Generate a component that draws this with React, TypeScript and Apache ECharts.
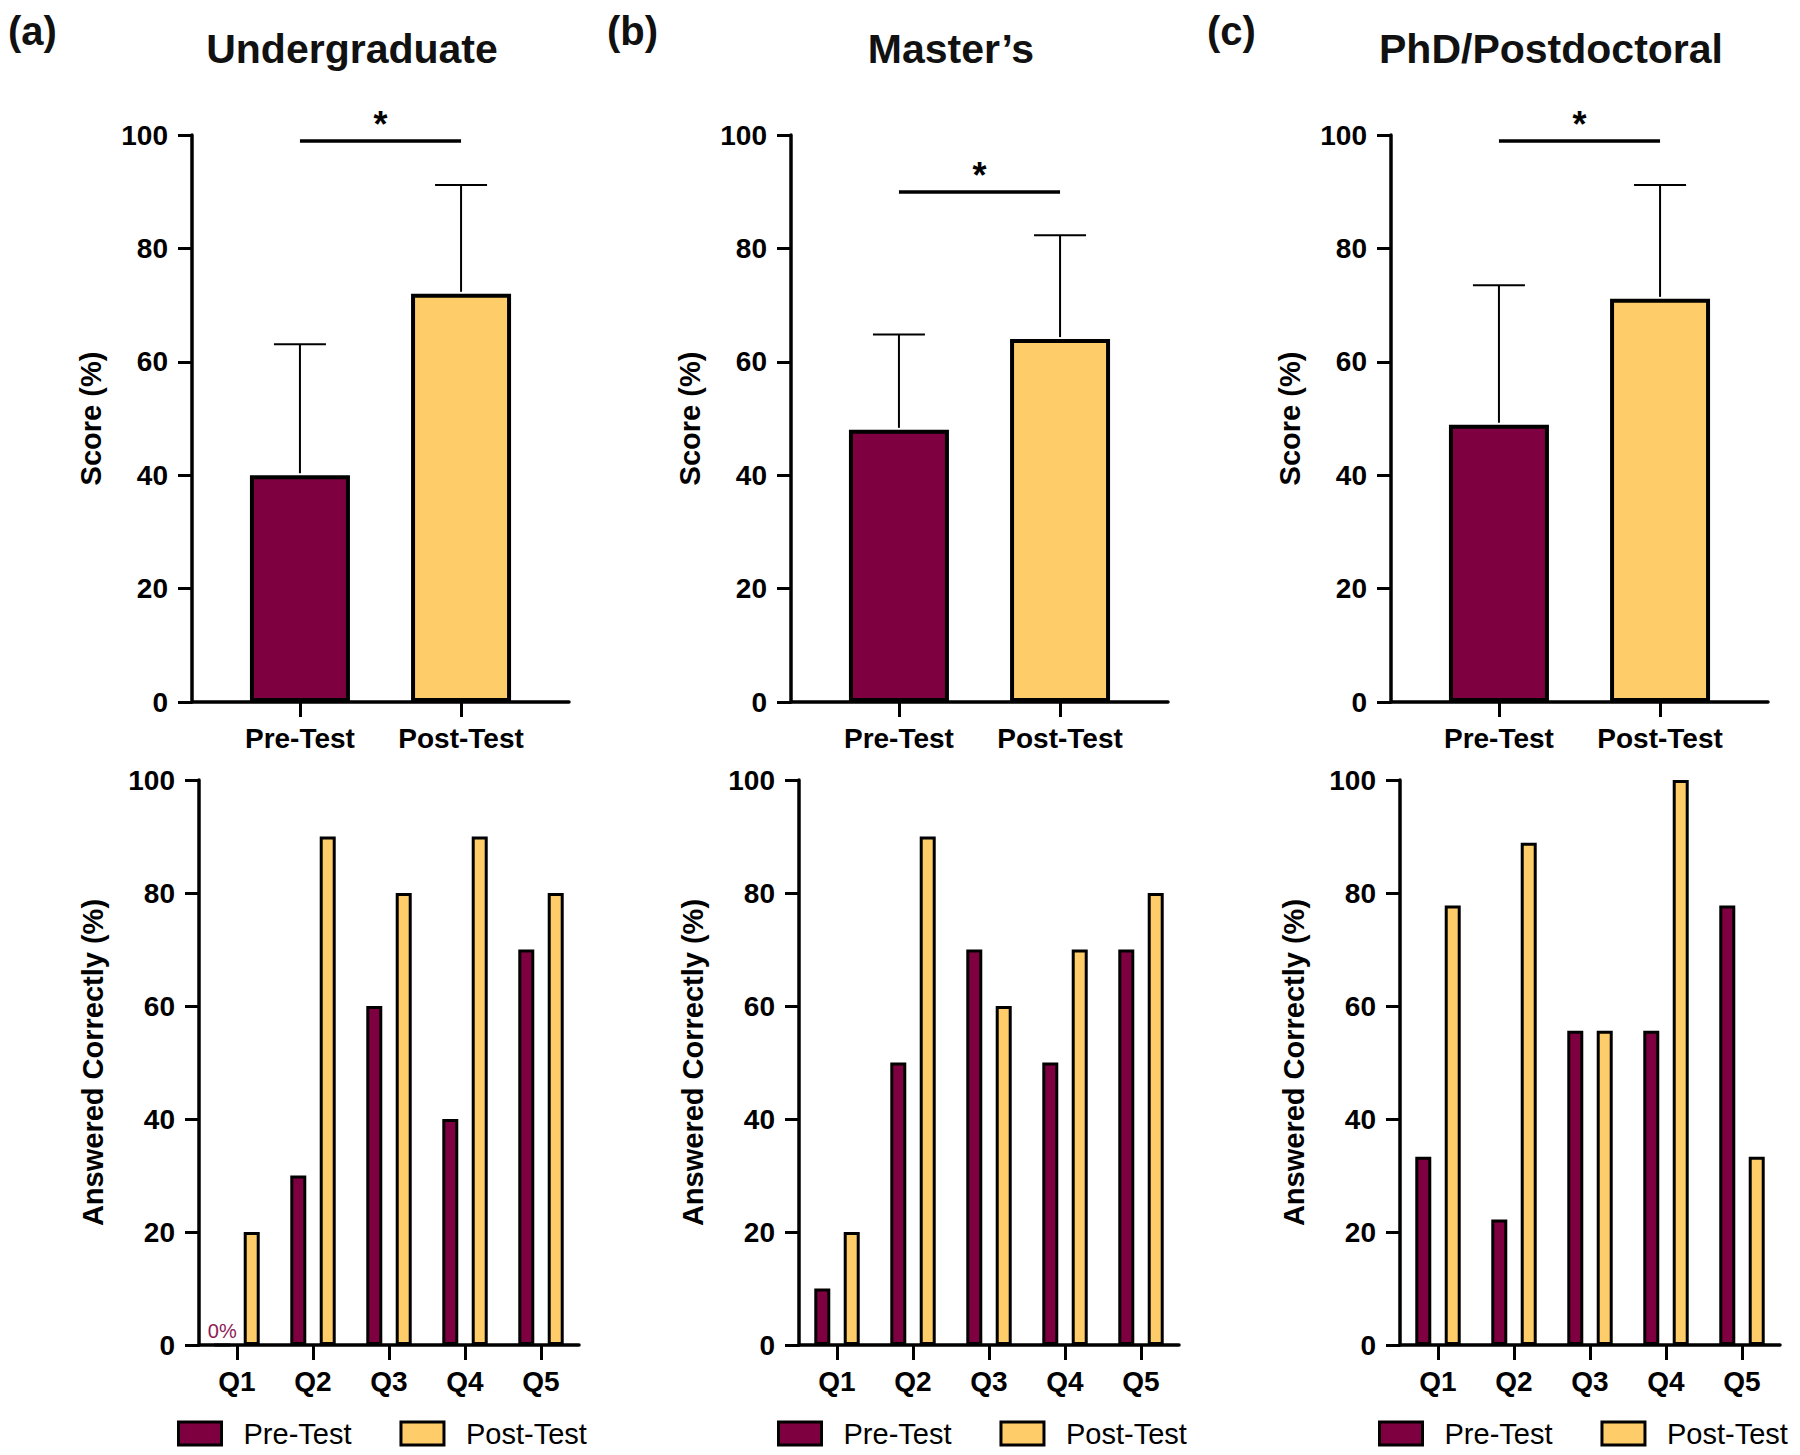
import React, { useEffect, useRef } from "react";
import * as echarts from "echarts";

// ---------- data ----------
const panelLetters = ["(a)", "(b)", "(c)"];
const panelTitles = ["Undergraduate", "Master\u2019s", "PhD/Postdoctoral"];
const scoreCategories = ["Pre-Test", "Post-Test"];
const preMean = [40, 48, 48.9];
const preSD = [23.1, 16.8, 24.6];
const postMean = [72, 64, 71.1];
const postSD = [19.2, 18.3, 20.1];
const sigLevel = [99, 90, 99];
const sigMark = ["*", "*", "*"];

const questions = ["Q1", "Q2", "Q3", "Q4", "Q5"];
const preCorrectUG = [0, 30, 60, 40, 70];
const postCorrectUG = [20, 90, 80, 90, 80];
const preCorrectMS = [10, 50, 70, 50, 70];
const postCorrectMS = [20, 90, 60, 70, 80];
const preCorrectPhD = [33.3, 22.2, 55.6, 55.6, 77.8];
const postCorrectPhD = [77.8, 88.9, 55.6, 100, 33.3];
const preCorrect = [preCorrectUG, preCorrectMS, preCorrectPhD];
const postCorrect = [postCorrectUG, postCorrectMS, postCorrectPhD];

const legendNames = ["Pre-Test", "Post-Test"];

// ---------- style ----------
const PRE = "#7E0040";
const POST = "#FECD6A";
const INK = "#000";
const FONT = '"Liberation Sans", Arial, Helvetica, sans-serif';

const topLeft = [192, 791, 1391];
const topTop = 135;
const topW = 377;
const topH = 567;
const botLeft = [199, 799, 1400];
const botTop = 780;
const botW = 380;
const botH = 565;

function buildOption() {
  const grid: any[] = [];
  const xAxis: any[] = [];
  const yAxis: any[] = [];
  const series: any[] = [];
  const legend: any[] = [];
  const graphic: any[] = [];

  const axisLine = { show: true, onZero: false, lineStyle: { color: INK, width: 3.5 } };
  const tickStyle = { color: INK, width: 3 };

  const yAxisBase = (gi: number, name: string, gap: number) => ({
    type: "value",
    gridIndex: gi,
    min: 0,
    max: 100,
    interval: 20,
    axisLine,
    axisTick: { show: true, length: 14, lineStyle: tickStyle },
    axisLabel: { fontSize: 28, fontWeight: "bold", color: INK, margin: 24, fontFamily: FONT },
    splitLine: { show: false },
    name,
    nameLocation: "middle",
    nameGap: gap,
    nameTextStyle: { fontSize: 29, fontWeight: "bold", color: INK, fontFamily: FONT },
  });

  for (let i = 0; i < 3; i++) {
    const ti = i;
    const gi = 3 + i;

    // ----- top panel -----
    grid[ti] = { left: topLeft[i], top: topTop, width: topW, height: topH };
    xAxis[ti] = {
      type: "value",
      gridIndex: ti,
      min: -0.67,
      max: 1.67,
      axisLine,
      axisTick: { show: true, customValues: [0, 1], length: 15, lineStyle: tickStyle },
      axisLabel: {
        show: true,
        customValues: [0, 1],
        formatter: (v: number) => scoreCategories[Math.round(v)] ?? "",
        fontSize: 28,
        fontWeight: "bold",
        color: INK,
        margin: 22,
        fontFamily: FONT,
      },
      splitLine: { show: false },
    };
    yAxis[ti] = yAxisBase(ti, "Score (%)", 87);

    series.push({
      type: "bar",
      xAxisIndex: ti,
      yAxisIndex: ti,
      barWidth: 100,
      data: [
        { value: [0, preMean[i]], itemStyle: { color: PRE } },
        { value: [1, postMean[i]], itemStyle: { color: POST } },
      ],
      itemStyle: { borderColor: INK, borderWidth: 4 },
      silent: true,
      markLine: {
        silent: true,
        symbol: ["none", "none"],
        lineStyle: { color: INK, width: 3.5, type: "solid" },
        label: {
          show: true,
          position: "middle",
          formatter: sigMark[i],
          fontSize: 36,
          fontWeight: "bold",
          color: INK,
          distance: -2,
          fontFamily: FONT,
        },
        data: [[{ coord: [0, sigLevel[i]] }, { coord: [1, sigLevel[i]] }]],
      },
    });
    series.push({
      type: "custom",
      xAxisIndex: ti,
      yAxisIndex: ti,
      z: 5,
      silent: true,
      data: [
        [0, preMean[i], preMean[i] + preSD[i]],
        [1, postMean[i], postMean[i] + postSD[i]],
      ],
      renderItem: (params: any, api: any) => {
        const x = api.value(0);
        const b = api.coord([x, api.value(1)]);
        const t = api.coord([x, api.value(2)]);
        return {
          type: "group",
          children: [
            { type: "line", shape: { x1: b[0], y1: b[1] - 2, x2: t[0], y2: t[1] }, style: { stroke: INK, lineWidth: 2 } },
            { type: "line", shape: { x1: t[0] - 26, y1: t[1], x2: t[0] + 26, y2: t[1] }, style: { stroke: INK, lineWidth: 2 } },
          ],
        };
      },
    });

    // ----- bottom panel -----
    grid[gi] = { left: botLeft[i], top: botTop, width: botW, height: botH };
    xAxis[gi] = {
      type: "category",
      gridIndex: gi,
      data: questions,
      axisLine,
      axisTick: { show: true, alignWithLabel: true, length: 15, lineStyle: tickStyle },
      axisLabel: { fontSize: 28, fontWeight: "bold", color: INK, margin: 22, fontFamily: FONT },
      splitLine: { show: false },
    };
    yAxis[gi] = yAxisBase(gi, "Answered Correctly (%)", 92);

    series.push({
      name: legendNames[0],
      type: "bar",
      xAxisIndex: gi,
      yAxisIndex: gi,
      barWidth: 16,
      barGap: "84%",
      data: preCorrect[i],
      itemStyle: { color: PRE, borderColor: INK, borderWidth: 3 },
      label: {
        show: true,
        position: "top",
        distance: 3,
        formatter: (p: any) => (p.value === 0 ? "0%" : ""),
        color: "#8E1A55",
        fontSize: 20,
        fontFamily: FONT,
      },
      silent: true,
    });
    series.push({
      name: legendNames[1],
      type: "bar",
      xAxisIndex: gi,
      yAxisIndex: gi,
      barWidth: 16,
      barGap: "84%",
      data: postCorrect[i],
      itemStyle: { color: POST, borderColor: INK, borderWidth: 3 },
      silent: true,
    });

    legend.push({
      data: legendNames,
      left: botLeft[i] - 22,
      top: 1419,
      padding: 0,
      icon: "rect",
      itemWidth: 43,
      itemHeight: 23,
      itemGap: 48,
      selectedMode: false,
      itemStyle: { borderColor: INK, borderWidth: 3 },
      textStyle: { fontSize: 29, color: INK, fontFamily: FONT, padding: [0, 0, 0, 17] },
    });

    // ----- panel letters and titles -----
    graphic.push({
      type: "text",
      x: topLeft[i] - 184,
      y: 31,
      style: {
        text: panelLetters[i],
        font: `bold 40px ${FONT}`,
        fill: "#111",
        textAlign: "left",
        textVerticalAlign: "middle",
      },
    });
    graphic.push({
      type: "text",
      x: topLeft[i] + 160,
      y: 49,
      style: {
        text: panelTitles[i],
        font: `bold 41px ${FONT}`,
        fill: "#111",
        textAlign: "center",
        textVerticalAlign: "middle",
      },
    });
  }

  return {
    animation: false,
    backgroundColor: "#fff",
    textStyle: { fontFamily: FONT },
    grid,
    xAxis,
    yAxis,
    series,
    legend,
    graphic,
  };
}

export default function App() {
  const ref = useRef<HTMLDivElement>(null);
  useEffect(() => {
    if (!ref.current) return;
    const chart = echarts.init(ref.current, undefined, { renderer: "svg" });
    chart.setOption(buildOption() as any);
    return () => chart.dispose();
  }, []);
  return (
    <div
      ref={ref}
      style={{ position: "absolute", left: 0, top: 0, width: 1800, height: 1455, background: "#fff" }}
    />
  );
}
